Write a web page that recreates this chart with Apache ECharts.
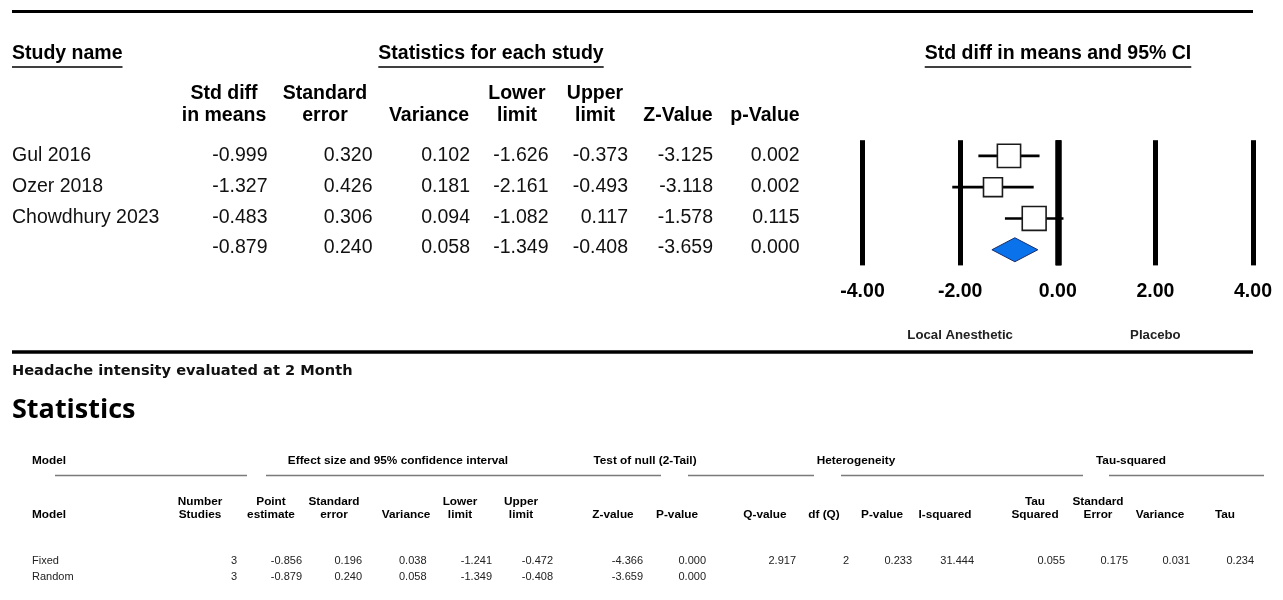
<!DOCTYPE html>
<html>
<head>
<meta charset="utf-8">
<script src="https://cdn.jsdelivr.net/npm/echarts@6/dist/echarts.min.js"></script>
<style>
  html, body { margin: 0; padding: 0; background: #fff; }
  #chart { width: 1283px; height: 600px; }
</style>
</head>
<body>
<div id="chart"></div>
<script>
// ---- Study-level results (last row = pooled random-effects estimate) ----
const studyNames = ['Gul 2016', 'Ozer 2018', 'Chowdhury 2023', ''];
const stdDiff    = [-0.999, -1.327, -0.483, -0.879];
const stdError   = [0.320, 0.426, 0.306, 0.240];
const variance   = [0.102, 0.181, 0.094, 0.058];
const lowerLimit = [-1.626, -2.161, -1.082, -1.349];
const upperLimit = [-0.373, -0.493, 0.117, -0.408];
const zValue     = [-3.125, -3.118, -1.578, -3.659];
const pValue     = [0.002, 0.002, 0.115, 0.000];

// ---- Forest axis ----
const axisTicks    = [-4, -2, 0, 2, 4];
const favourLabels = ['Local Anesthetic', 'Placebo'];
const favourAt     = [-2, 2];

// ---- Summary statistics ----
const modelNames     = ['Fixed', 'Random'];
const modelStudies   = [3, 3];
const modelPoint     = [-0.856, -0.879];
const modelStdError  = [0.196, 0.240];
const modelVariance  = [0.038, 0.058];
const modelLower     = [-1.241, -1.349];
const modelUpper     = [-0.472, -0.408];
const modelZ         = [-4.366, -3.659];
const modelP         = [0.000, 0.000];
const heterogeneity  = [2.917, 2, 0.233, 31.444];   // Q, df(Q), P, I-squared
const tauSquared     = [0.055, 0.175, 0.031, 0.234]; // tau², SE, variance, tau

// ---- helpers ----
const FF = '"Liberation Sans", Arial, sans-serif';
const F_HEAD = 'bold 19.5px ' + FF;
const F_BODY = '19.5px ' + FF;
const F_SMALL_B = 'bold 11.8px ' + FF;
const F_SMALL = '11px "Liberation Sans Narrow", ' + FF;

const measureCtx = document.createElement('canvas').getContext('2d');
function textWidth(text, font) { measureCtx.font = font; return measureCtx.measureText(text).width; }

function txt(x, y, text, font, align, color) {
  align = align || 'left';
  return {
    type: 'text', x: x, y: y, silent: true,
    style: { text: text, font: font, fill: color || '#000',
             align: align, textAlign: align, verticalAlign: 'middle', textVerticalAlign: 'middle' }
  };
}
function hline(x1, x2, y, w, color) {
  return { type: 'line', silent: true, shape: { x1: x1, y1: y, x2: x2, y2: y },
           style: { stroke: color || '#000', lineWidth: w } };
}
function fmt(v, dec) { return v.toFixed(dec === undefined ? 3 : dec); }

const graphics = [];

// ---- upper table ----
graphics.push(hline(12, 1253, 11.5, 3));
[
  ['Study name', 12, 'left'],
  ['Statistics for each study', 491, 'center'],
  ['Std diff in means and 95% CI', 1058, 'center']
].forEach(function (h) {
  const w = textWidth(h[0], F_HEAD);
  const x0 = h[2] === 'left' ? h[1] : h[1] - w / 2;
  graphics.push(txt(h[1], 53.5, h[0], F_HEAD, h[2]));
  graphics.push(hline(x0, x0 + w, 67, 1.6));
});

const topCols = [
  { head: ['Std diff', 'in means'], cx: 224, right: 267.5, vals: stdDiff },
  { head: ['Standard', 'error'],    cx: 325, right: 372.5, vals: stdError },
  { head: ['', 'Variance'],         cx: 429, right: 470,   vals: variance },
  { head: ['Lower', 'limit'],       cx: 517, right: 548.5, vals: lowerLimit },
  { head: ['Upper', 'limit'],       cx: 595, right: 628,   vals: upperLimit },
  { head: ['', 'Z-Value'],          cx: 678, right: 713,   vals: zValue },
  { head: ['', 'p-Value'],          cx: 765, right: 799.5, vals: pValue }
];
const rowY = function (i) { return 156 + 30.7 * i; };
topCols.forEach(function (c) {
  if (c.head[0]) graphics.push(txt(c.cx, 94, c.head[0], F_HEAD, 'center'));
  graphics.push(txt(c.cx, 116, c.head[1], F_HEAD, 'center'));
  c.vals.forEach(function (v, i) { graphics.push(txt(c.right, rowY(i), fmt(v), F_BODY, 'right', '#111')); });
});
studyNames.forEach(function (n, i) { if (n) graphics.push(txt(12, rowY(i), n, F_BODY, 'left', '#111')); });

// ---- lower block ----
graphics.push(hline(12, 1253, 352, 3.5));
graphics.push(txt(12, 371.5, 'Headache intensity evaluated at 2 Month', 'bold 14.6px "DejaVu Sans", sans-serif', 'left', '#111'));
graphics.push(txt(12, 410.5, 'Statistics', 'bold 27px "Open Sans", sans-serif', 'left', '#000'));

[
  ['Model', 32, 'left'],
  ['Effect size and 95% confidence interval', 398, 'center'],
  ['Test of null (2-Tail)', 645, 'center'],
  ['Heterogeneity', 856, 'center'],
  ['Tau-squared', 1131, 'center']
].forEach(function (h) { graphics.push(txt(h[1], 460.5, h[0], F_SMALL_B, h[2])); });
[[55, 247], [266, 661], [688, 814], [841, 1083], [1109, 1264]].forEach(function (s) {
  graphics.push(hline(s[0], s[1], 475.5, 1.6, '#7a7a7a'));
});

graphics.push(txt(32, 514.5, 'Model', F_SMALL_B, 'left'));
const bottomCols = [
  { head: ['Number', 'Studies'],  cx: 200,  right: 237,  vals: modelStudies, dec: 0 },
  { head: ['Point', 'estimate'],  cx: 271,  right: 302,  vals: modelPoint },
  { head: ['Standard', 'error'],  cx: 334,  right: 362,  vals: modelStdError },
  { head: ['', 'Variance'],       cx: 406,  right: 426.5, vals: modelVariance },
  { head: ['Lower', 'limit'],     cx: 460,  right: 492,  vals: modelLower },
  { head: ['Upper', 'limit'],     cx: 521,  right: 553,  vals: modelUpper },
  { head: ['', 'Z-value'],        cx: 613,  right: 643,  vals: modelZ },
  { head: ['', 'P-value'],        cx: 677,  right: 706,  vals: modelP },
  { head: ['', 'Q-value'],        cx: 765,  right: 796,  vals: [heterogeneity[0]] },
  { head: ['', 'df (Q)'],         cx: 824,  right: 849,  vals: [heterogeneity[1]], dec: 0 },
  { head: ['', 'P-value'],        cx: 882,  right: 912,  vals: [heterogeneity[2]] },
  { head: ['', 'I-squared'],      cx: 945,  right: 974,  vals: [heterogeneity[3]] },
  { head: ['Tau', 'Squared'],     cx: 1035, right: 1065, vals: [tauSquared[0]] },
  { head: ['Standard', 'Error'],  cx: 1098, right: 1128, vals: [tauSquared[1]] },
  { head: ['', 'Variance'],       cx: 1160, right: 1190, vals: [tauSquared[2]] },
  { head: ['', 'Tau'],            cx: 1225, right: 1254, vals: [tauSquared[3]] }
];
const modelRowY = function (i) { return 560.5 + 16 * i; };
bottomCols.forEach(function (c) {
  if (c.head[0]) graphics.push(txt(c.cx, 501.5, c.head[0], F_SMALL_B, 'center'));
  graphics.push(txt(c.cx, 514.5, c.head[1], F_SMALL_B, 'center'));
  c.vals.forEach(function (v, i) { graphics.push(txt(c.right, modelRowY(i), fmt(v, c.dec), F_SMALL, 'right', '#222')); });
});
modelNames.forEach(function (n, i) { graphics.push(txt(32, modelRowY(i), n, F_SMALL, 'left', '#222')); });

// ---- forest plot ----
const tau2 = tauSquared[0];
const BOX_SCALE = 9.2;   // box side per sqrt(random-effects weight)
const studyData = [];
for (let i = 0; i < 3; i++) studyData.push([stdDiff[i], lowerLimit[i], upperLimit[i], i, variance[i]]);
const pooledData = [[stdDiff[3], lowerLimit[3], upperLimit[3], 3, variance[3]]];

const chart = echarts.init(document.getElementById('chart'), null, { renderer: 'canvas' });
chart.setOption({
  backgroundColor: '#fff',
  animation: false,
  grid: { left: 862.5, top: 140.2, width: 390.5, height: 125.2, containLabel: false },
  xAxis: {
    type: 'value', min: axisTicks[0], max: axisTicks[axisTicks.length - 1], interval: 2,
    axisLine: { show: false }, axisTick: { show: false },
    splitLine: { show: true, lineStyle: { color: '#000', width: 5 } },
    axisLabel: { color: '#000', fontWeight: 'bold', fontSize: 19.5, fontFamily: 'Liberation Sans',
                 margin: 16, formatter: function (v) { return v.toFixed(2); } }
  },
  yAxis: { type: 'value', min: -0.5, max: 3.5, inverse: true, show: false, splitLine: { show: false } },
  series: [
    {
      type: 'custom', clip: false, silent: true,
      dimensions: ['mean', 'lower', 'upper', 'row', 'variance'],
      data: studyData,
      renderItem: function (params, api) {
        const row = api.value(3);
        const p = api.coord([api.value(0), row]);
        const l = api.coord([api.value(1), row]);
        const h = api.coord([api.value(2), row]);
        const side = BOX_SCALE * Math.sqrt(1 / (api.value(4) + tau2));
        return {
          type: 'group',
          children: [
            { type: 'line', shape: { x1: l[0], y1: l[1], x2: h[0], y2: h[1] },
              style: { stroke: '#000', lineWidth: 2.6 } },
            { type: 'rect', shape: { x: p[0] - side / 2, y: p[1] - side / 2, width: side, height: side },
              style: { fill: '#fff', stroke: '#1a1a1a', lineWidth: 1.6 } }
          ]
        };
      },
      markLine: {
        silent: true, symbol: 'none', label: { show: false },
        lineStyle: { color: '#000', width: 6.5, type: 'solid' },
        data: [{ xAxis: 0 }]
      }
    },
    {
      type: 'custom', clip: false, silent: true,
      dimensions: ['mean', 'lower', 'upper', 'row', 'variance'],
      data: pooledData,
      renderItem: function (params, api) {
        const row = api.value(3);
        const p = api.coord([api.value(0), row]);
        const l = api.coord([api.value(1), row]);
        const h = api.coord([api.value(2), row]);
        const hh = 12;
        return {
          type: 'polygon',
          shape: { points: [[l[0], l[1]], [p[0], p[1] - hh], [h[0], h[1]], [p[0], p[1] + hh]] },
          style: { fill: '#0a72ea', stroke: '#1b2f6b', lineWidth: 1 }
        };
      }
    }
  ]
});

// favour labels centred under their axis values
favourLabels.forEach(function (t, i) {
  const x = chart.convertToPixel({ xAxisIndex: 0 }, favourAt[i]);
  graphics.push(txt(x, 335.5, t, 'bold 13.2px ' + FF, 'center', '#222'));
});
chart.setOption({ graphic: { elements: graphics } });
</script>
</body>
</html>
